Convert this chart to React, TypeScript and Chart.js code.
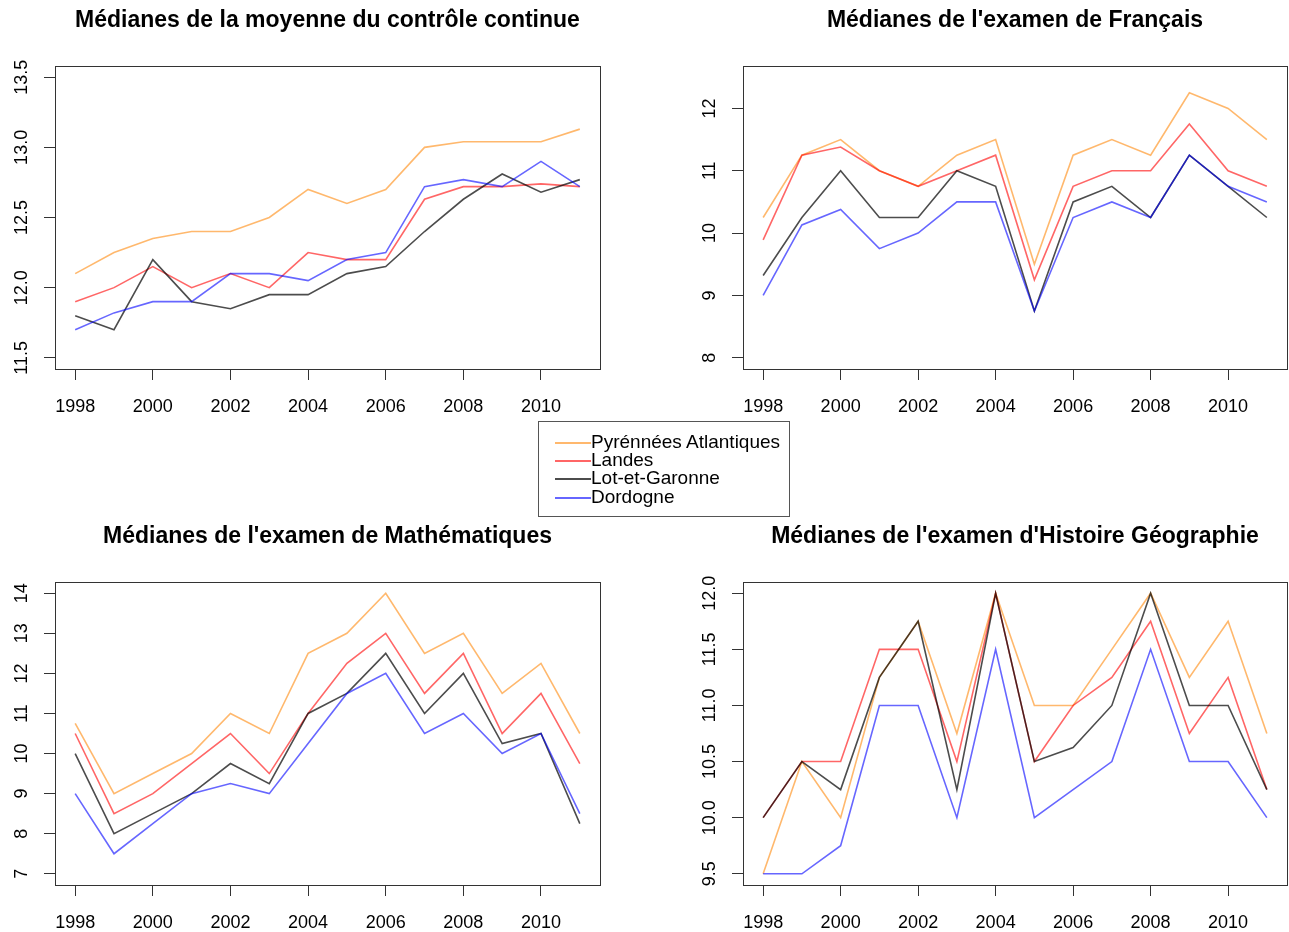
import React, { useEffect, useRef } from "react";
import { Chart, registerables } from "chart.js";

Chart.register(...registerables);

// ---------- data ----------
const YEARS = [1998, 1999, 2000, 2001, 2002, 2003, 2004, 2005, 2006, 2007, 2008, 2009, 2010, 2011];
const X_TICKS = [1998, 2000, 2002, 2004, 2006, 2008, 2010];
const SERIES_NAMES = ["Pyrénnées Atlantiques", "Landes", "Lot-et-Garonne", "Dordogne"];
const SERIES_COLORS = ["rgba(255,140,20,0.62)", "rgba(255,0,0,0.6)", "rgba(0,0,0,0.7)", "rgba(0,0,255,0.6)"];

// Médianes de la moyenne du contrôle continue
const CC_PYRENEES = [12.1, 12.25, 12.35, 12.4, 12.4, 12.5, 12.7, 12.6, 12.7, 13.0, 13.04, 13.04, 13.04, 13.13];
const CC_LANDES = [11.9, 12.0, 12.15, 12.0, 12.1, 12.0, 12.25, 12.2, 12.2, 12.63, 12.72, 12.72, 12.74, 12.72];
const CC_LOT = [11.8, 11.7, 12.2, 11.9, 11.85, 11.95, 11.95, 12.1, 12.15, 12.4, 12.63, 12.81, 12.68, 12.77];
const CC_DORDOGNE = [11.7, 11.82, 11.9, 11.9, 12.1, 12.1, 12.05, 12.2, 12.25, 12.72, 12.77, 12.72, 12.9, 12.72];
const CC_Y_TICKS = [11.5, 12.0, 12.5, 13.0, 13.5];
const CC_Y_LIM = [11.5, 13.5];

// Médianes de l'examen de Français
const FR_PYRENEES = [10.25, 11.25, 11.5, 11.0, 10.75, 11.25, 11.5, 9.5, 11.25, 11.5, 11.25, 12.25, 12.0, 11.5];
const FR_LANDES = [9.89, 11.25, 11.38, 11.0, 10.75, 11.0, 11.25, 9.25, 10.75, 11.0, 11.0, 11.75, 11.0, 10.75];
const FR_LOT = [9.32, 10.25, 11.0, 10.25, 10.25, 11.0, 10.75, 8.75, 10.5, 10.75, 10.25, 11.25, 10.75, 10.25];
const FR_DORDOGNE = [9.0, 10.13, 10.38, 9.75, 10.0, 10.5, 10.5, 8.75, 10.25, 10.5, 10.25, 11.25, 10.75, 10.5];
const FR_Y_TICKS = [8, 9, 10, 11, 12];
const FR_Y_LIM = [8, 12.5];

// Médianes de l'examen de Mathématiques
const MA_PYRENEES = [10.75, 9.0, 9.5, 10.0, 11.0, 10.5, 12.5, 13.0, 14.0, 12.5, 13.0, 11.5, 12.25, 10.5];
const MA_LANDES = [10.5, 8.5, 9.0, 9.75, 10.5, 9.5, 11.0, 12.25, 13.0, 11.5, 12.5, 10.5, 11.5, 9.75];
const MA_LOT = [10.0, 8.0, 8.5, 9.0, 9.75, 9.25, 11.0, 11.5, 12.5, 11.0, 12.0, 10.25, 10.5, 8.25];
const MA_DORDOGNE = [9.0, 7.5, 8.25, 9.0, 9.25, 9.0, 10.25, 11.5, 12.0, 10.5, 11.0, 10.0, 10.5, 8.5];
const MA_Y_TICKS = [7, 8, 9, 10, 11, 12, 13, 14];
const MA_Y_LIM = [7, 14];

// Médianes de l'examen d'Histoire Géographie
const HG_PYRENEES = [9.5, 10.5, 10.0, 11.25, 11.75, 10.75, 12.0, 11.0, 11.0, 11.5, 12.0, 11.25, 11.75, 10.75];
const HG_LANDES = [10.0, 10.5, 10.5, 11.5, 11.5, 10.5, 12.0, 10.5, 11.0, 11.25, 11.75, 10.75, 11.25, 10.25];
const HG_LOT = [10.0, 10.5, 10.25, 11.25, 11.75, 10.25, 12.0, 10.5, 10.625, 11.0, 12.0, 11.0, 11.0, 10.25];
const HG_DORDOGNE = [9.5, 9.5, 9.75, 11.0, 11.0, 10.0, 11.5, 10.0, 10.25, 10.5, 11.5, 10.5, 10.5, 10.0];
const HG_Y_TICKS = [9.5, 10.0, 10.5, 11.0, 11.5, 12.0];
const HG_Y_LIM = [9.5, 12];

const FONT = '"Liberation Sans", Arial, Helvetica, sans-serif';
const FRAME = "#333333";

type Panel = {
  title: string;
  series: number[][];
  yTicks: number[];
  yLim: number[];
  yDecimals: number;
  left: number;
  top: number;
  width: number;
  height: number;
  pad: { left: number; right: number; top: number; bottom: number };
  titleY: number;
};

function rangeR(lim: number[]) {
  const lo = lim[0];
  const hi = lim[lim.length - 1];
  const ext = (hi - lo) * 0.04;
  return [lo - ext, hi + ext];
}

const PANELS: Panel[] = [
  {
    title: "Médianes de la moyenne du contrôle continue",
    series: [CC_PYRENEES, CC_LANDES, CC_LOT, CC_DORDOGNE],
    yTicks: CC_Y_TICKS, yLim: CC_Y_LIM, yDecimals: 1,
    left: 0, top: 0, width: 644, height: 466,
    pad: { left: 0, right: 44, top: 66, bottom: 50 },
    titleY: 21,
  },
  {
    title: "Médianes de l'examen de Français",
    series: [FR_PYRENEES, FR_LANDES, FR_LOT, FR_DORDOGNE],
    yTicks: FR_Y_TICKS, yLim: FR_Y_LIM, yDecimals: 0,
    left: 644, top: 0, width: 645, height: 466,
    pad: { left: 44, right: 2, top: 66, bottom: 50 },
    titleY: 21,
  },
  {
    title: "Médianes de l'examen de Mathématiques",
    series: [MA_PYRENEES, MA_LANDES, MA_LOT, MA_DORDOGNE],
    yTicks: MA_Y_TICKS, yLim: MA_Y_LIM, yDecimals: 0,
    left: 0, top: 466, width: 644, height: 466,
    pad: { left: 0, right: 44, top: 116, bottom: 0 },
    titleY: 71,
  },
  {
    title: "Médianes de l'examen d'Histoire Géographie",
    series: [HG_PYRENEES, HG_LANDES, HG_LOT, HG_DORDOGNE],
    yTicks: HG_Y_TICKS, yLim: HG_Y_LIM, yDecimals: 1,
    left: 644, top: 466, width: 645, height: 466,
    pad: { left: 44, right: 2, top: 116, bottom: 0 },
    titleY: 71,
  },
];

const framePlugin = {
  id: "rframe",
  afterDraw(chart: any, _args: any, opts: any) {
    const { ctx, chartArea: a, scales } = chart;
    ctx.save();
    ctx.strokeStyle = FRAME;
    ctx.lineWidth = 1;
    ctx.strokeRect(Math.round(a.left) + 0.5, Math.round(a.top) + 0.5, Math.round(a.right - a.left), Math.round(a.bottom - a.top));
    ctx.fillStyle = "#000";
    ctx.textAlign = "center";
    ctx.textBaseline = "middle";
    ctx.font = `bold 23px ${FONT}`;
    ctx.fillText(opts.title, (a.left + a.right) / 2, opts.titleY);
    ctx.font = `18px ${FONT}`;
    for (const v of opts.yTicks) {
      const y = scales.y.getPixelForValue(v);
      ctx.save();
      ctx.translate(a.left - 33, y);
      ctx.rotate(-Math.PI / 2);
      ctx.fillText(v.toFixed(opts.yDecimals), 0, 0);
      ctx.restore();
    }
    ctx.restore();
  },
};

function PanelChart({ p }: { p: Panel }) {
  const ref = useRef<HTMLCanvasElement>(null);
  useEffect(() => {
    if (!ref.current) return;
    const [yMin, yMax] = rangeR(p.yLim);
    const [xMin, xMax] = rangeR([YEARS[0], YEARS[YEARS.length - 1]]);
    const datasets = p.series.map((vals, i) => ({
      label: SERIES_NAMES[i],
      data: YEARS.map((yr, j) => ({ x: yr, y: vals[j] })),
      borderColor: SERIES_COLORS[i],
      backgroundColor: SERIES_COLORS[i],
      borderWidth: 1.6,
      pointRadius: 0,
      tension: 0,
      fill: false,
      order: 4 - i,
    }));
    const chart = new Chart(ref.current, {
      type: "line",
      data: { datasets },
      plugins: [framePlugin],
      options: {
        responsive: false,
        animation: false,
        layout: { padding: p.pad },
        plugins: {
          legend: { display: false },
          tooltip: { enabled: false },
          title: { display: false },
          rframe: { title: p.title, titleY: p.titleY, yTicks: p.yTicks, yDecimals: p.yDecimals },
        } as any,
        scales: {
          x: {
            type: "linear",
            min: xMin,
            max: xMax,
            afterBuildTicks: (s: any) => { s.ticks = X_TICKS.map((v) => ({ value: v })); },
            afterFit: (s: any) => { s.height = 47; },
            grid: { drawOnChartArea: false, drawTicks: true, tickLength: 11, color: FRAME, lineWidth: 1 },
            border: { display: true, color: FRAME, width: 1 },
            ticks: {
              autoSkip: false,
              maxRotation: 0,
              minRotation: 0,
              padding: 16,
              color: "#000",
              font: { family: FONT, size: 18 },
              callback: (v: any) => String(v),
            },
          },
          y: {
            type: "linear",
            min: yMin,
            max: yMax,
            afterBuildTicks: (s: any) => { s.ticks = p.yTicks.map((v) => ({ value: v })); },
            afterFit: (s: any) => { s.width = 55; },
            grid: { drawOnChartArea: false, drawTicks: true, tickLength: 11, color: FRAME, lineWidth: 1 },
            border: { display: true, color: FRAME, width: 1 },
            ticks: { color: "rgba(0,0,0,0)", font: { family: FONT, size: 18 } },
          },
        },
      } as any,
    });
    return () => chart.destroy();
  }, [p]);
  return (
    <canvas
      ref={ref}
      width={p.width}
      height={p.height}
      style={{ position: "absolute", left: p.left, top: p.top, width: p.width, height: p.height }}
    />
  );
}

function Legend() {
  const rowCenters = [441.5, 459.8, 478.2, 496.6];
  return (
    <div
      style={{
        position: "absolute",
        left: 538,
        top: 421,
        width: 252,
        height: 96,
        border: "1px solid #555",
        boxSizing: "border-box",
        fontFamily: FONT,
        fontSize: 19,
        color: "#000",
      }}
    >
      {SERIES_NAMES.map((name, i) => (
        <div
          key={name}
          style={{
            position: "absolute",
            left: 0,
            top: rowCenters[i] - 421 - 10 - 1,
            width: 240,
            height: 20,
            lineHeight: "20px",
            whiteSpace: "nowrap",
          }}
        >
          <div
            style={{
              position: "absolute",
              left: 16,
              top: 10,
              width: 36,
              height: 2,
              background: SERIES_COLORS[i],
            }}
          />
          <span style={{ position: "absolute", left: 52, top: 0 }}>{name}</span>
        </div>
      ))}
    </div>
  );
}

export default function App() {
  return (
    <div style={{ position: "absolute", left: 0, top: 0, width: 1289, height: 932, background: "#fff", overflow: "hidden" }}>
      {PANELS.map((p, i) => (
        <PanelChart key={i} p={p} />
      ))}
      <Legend />
    </div>
  );
}
